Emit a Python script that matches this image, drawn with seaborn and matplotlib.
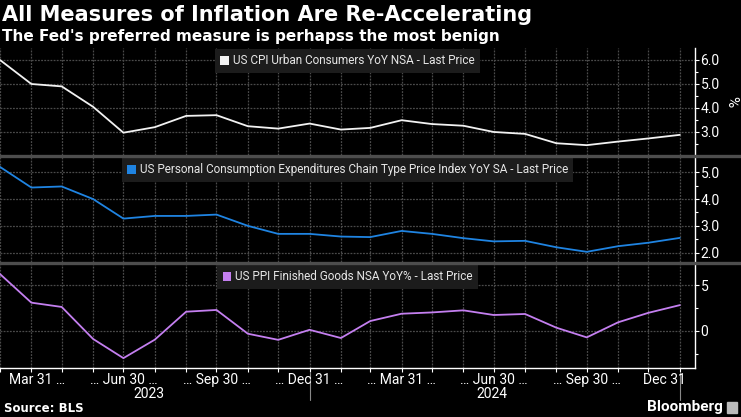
import pandas as pd
import matplotlib
matplotlib.use("Agg")
import matplotlib.pyplot as plt
from matplotlib.patches import Patch
from matplotlib.lines import Line2D
import seaborn as sns

# monthly readings, Feb 2023 .. Dec 2024
dates = pd.date_range("2023-02-28", periods=23, freq="ME")
cpi = [6.0, 5.0, 4.9, 4.05, 2.97, 3.2, 3.67, 3.7, 3.24, 3.14, 3.35, 3.1,
       3.17, 3.49, 3.33, 3.26, 3.0, 2.92, 2.53, 2.45, 2.6, 2.73, 2.88]
pce = [5.2, 4.43, 4.47, 4.0, 3.27, 3.37, 3.37, 3.42, 3.0, 2.7, 2.7, 2.6,
       2.58, 2.81, 2.7, 2.54, 2.42, 2.44, 2.2, 2.03, 2.24, 2.37, 2.55]
ppi = [6.2, 3.07, 2.6, -0.9, -3.0, -0.98, 2.08, 2.27, -0.33, -1.0, 0.1, -0.8,
       1.06, 1.86, 2.0, 2.23, 1.72, 1.83, 0.33, -0.73, 0.92, 1.96, 2.8]

labels = ["US CPI Urban Consumers YoY NSA - Last Price",
          "US Personal Consumption Expenditures Chain Type Price Index YoY SA - Last Price",
          "US PPI Finished Goods NSA YoY% - Last Price"]
colors = ["#f2f2f2", "#1f84e2", "#c47ff0"]

quarter_dates = pd.to_datetime(["2023-04-06", "2023-06-30", "2023-09-30", "2023-12-31",
                                "2024-03-31", "2024-06-30", "2024-09-30", "2024-12-16"])
quarter_labels = ["Mar 31 …", "… Jun 30 …", "… Sep 30 …", "… Dec 31 …",
                  "… Mar 31 …", "… Jun 30 …", "… Sep 30 …", "Dec 31"]
years = ["2023", "2024"]
year_pos = pd.to_datetime(["2023-07-25", "2024-06-28"])
year_ends = pd.to_datetime(["2023-12-31", "2024-12-31"])

df = pd.DataFrame({"date": dates, "cpi": cpi, "pce": pce, "ppi": ppi})

sns.set_theme(style="dark")
plt.rcParams["font.family"] = ["Roboto", "DejaVu Sans"]
bg = "#000000"
gridc = "#4a4a4a"
W, H = 741, 417
fig = plt.figure(figsize=(W / 100, H / 100), dpi=100, facecolor=bg)

def rect(top, bottom, right=695):
    return [0, 1 - bottom / H, right / W, (bottom - top) / H]

panels = [
    ("cpi", rect(48, 155), (2.04, 6.5), [3.0, 4.0, 5.0, 6.0], [2.5, 3.5, 4.5, 5.5], "{:.1f}"),
    ("pce", rect(157, 262), (1.65, 5.57), [2.0, 3.0, 4.0, 5.0], [2.5, 3.5, 4.5], "{:.1f}"),
    ("ppi", rect(264, 368), (-4.08, 7.3), [0, 5], [-2.5, 2.5], "{:.0f}"),
]
xmin = dates[0]
xmax = pd.Timestamp("2025-01-15")

axes = []
for i, (col, r, ylim, yt, ymt, fmt) in enumerate(panels):
    ax = fig.add_axes(r)
    ax.set_facecolor(bg)
    sns.lineplot(data=df, x="date", y=col, ax=ax, color=colors[i], linewidth=1.3, zorder=3)
    # grid: one line per month, one per labelled value
    for d in dates:
        ax.axvline(d, color=gridc, linestyle=(0, (1.5, 1)), linewidth=0.9, zorder=2)
    for v in yt:
        ax.axhline(v, color=gridc, linestyle=(0, (1.5, 1)), linewidth=0.9, zorder=2)
    ax.set_xlim(xmin, xmax)
    ax.set_ylim(*ylim)
    ax.yaxis.tick_right()
    ax.set_yticks(yt)
    ax.set_yticklabels([fmt.format(v) for v in yt])
    ax.set_yticks(ymt, minor=True)
    ax.tick_params(axis="y", which="major", colors="white", labelcolor="white",
                   labelsize=10, length=3, width=0.8, pad=1, right=True, direction="out")
    ax.tick_params(axis="y", which="minor", colors="white", length=2, width=0.8, right=True)
    ax.set_xticks(dates)
    for s in ["top", "left", "bottom"]:
        ax.spines[s].set_visible(False)
    ax.spines["right"].set_color("white")
    ax.spines["right"].set_linewidth(1.0)
    ax.set_xlabel("")
    ax.set_ylabel("")
    leg = ax.legend(handles=[Patch(facecolor=colors[i], edgecolor="none")], labels=[labels[i]],
                    loc="upper center", bbox_to_anchor=(0.5, 1.0), frameon=True,
                    facecolor="#1c1c1c", edgecolor="none", framealpha=1, fancybox=False,
                    handlelength=0.75, handleheight=0.75, handletextpad=0.3,
                    borderpad=0.45, borderaxespad=0.1, fontsize=8.5)
    leg.set_zorder(5)
    for t in leg.get_texts():
        t.set_color("#e6e6e6")
    axes.append(ax)

for ax in axes[:2]:
    ax.tick_params(axis="x", which="both", bottom=False, labelbottom=False)

ax1 = axes[0]
ax1.yaxis.set_label_position("right")
ax1.set_ylabel("%", color="white", fontsize=11, rotation=-90, labelpad=13)

ax3 = axes[2]
ax3.spines["bottom"].set_visible(True)
ax3.spines["bottom"].set_color("white")
ax3.spines["bottom"].set_linewidth(1.0)
ax3.set_xticks(dates)
ax3.set_xticklabels([""] * len(dates))
ax3.tick_params(axis="x", which="major", bottom=True, colors="white", length=3, width=0.8)
for d, lab in zip(quarter_dates, quarter_labels):
    ax3.text(d, -0.045, lab, transform=ax3.get_xaxis_transform(), ha="center", va="top",
             color="white", fontsize=10)
for d, y in zip(year_pos, years):
    ax3.text(d, -0.18, y, transform=ax3.get_xaxis_transform(), ha="center", va="top",
             color="white", fontsize=10)
for d in year_ends:
    ax3.plot([d, d], [-0.05, -0.31], transform=ax3.get_xaxis_transform(), color="#888888",
             linewidth=0.8, clip_on=False)

# panel separators
for y in [156, 263]:
    fig.add_artist(Line2D([0, 1], [1 - y / H, 1 - y / H], color="#4d4d4d", linewidth=2.4,
                          transform=fig.transFigure))

fig.text(2 / W, 1 - 15 / H, "All Measures of Inflation Are Re-Accelerating", color="white",
         fontsize=15, fontweight="bold", family="DejaVu Sans", va="center", ha="left")
fig.text(2 / W, 1 - 36 / H, "The Fed's preferred measure is perhapss the most benign", color="white",
         fontsize=11, fontweight="bold", family="DejaVu Sans", va="center", ha="left")
fig.text(4 / W, 1 - 408 / H, "Source: BLS", color="white", fontsize=8.5, fontweight="bold",
         family="DejaVu Sans", va="center", ha="left")
fig.text(723 / W, 1 - 407 / H, "Bloomberg", color="white", fontsize=11, fontweight="bold",
         va="center", ha="right")
fig.add_artist(plt.Rectangle((727 / W, 1 - 413 / H), 10 / W, 11 / H, color="#bbbbbb",
                             transform=fig.transFigure))

fig.savefig("out.png", dpi=100, facecolor=bg)
